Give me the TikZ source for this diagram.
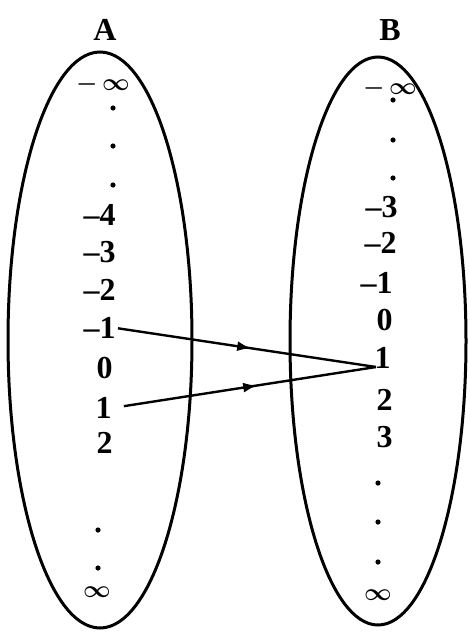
\documentclass[tikz,border=0pt]{standalone}
\usepackage{fontspec}
\setmainfont{Liberation Serif}
\usetikzlibrary{arrows.meta,decorations.markings}
\tikzset{
  num/.style={font=\fontsize{16}{16}\selectfont\bfseries, anchor=east, inner sep=0pt},
  setname/.style={font=\fontsize{16}{16}\selectfont\bfseries, inner sep=0pt},
  infty/.style={font=\fontsize{12}{12}\selectfont\boldmath, inner sep=0pt},
  dotmark/.style={fill=black, circle, inner sep=0pt, minimum size=2.6pt},
  midarrow/.style={decoration={markings, mark=at position #1 with {\arrow{Latex[length=7pt,width=5pt]}}}, postaction={decorate}},
}

\begin{document}
\begin{tikzpicture}[x=0.5pt, y=-0.5pt]
    \useasboundingbox (0,0) rectangle (470,632);
    % the two sets
    \draw[line width=1.5pt] (100,340) ellipse (92 and 288);
    \draw[line width=1.5pt] (378,341) ellipse (88 and 284);
    \node[setname] (A) at (105,30) {A};
    \node[setname] (B) at (390,30) {B};

    % set A
    \node[infty] (aminf) at (103,84) {$-\,\infty$};
    \foreach \y [count=\i] in {108,146,185} \node[dotmark] (atop\i) at (113,\y) {};
    \node[num] (am4) at (116,215) {–4};
    \node[num] (am3) at (116,252) {–3};
    \node[num] (am2) at (116,290) {–2};
    \node[num] (am1) at (116,328) {–1};
    \node[num] (a0) at (113,368) {0};
    \node[num] (a1) at (112,408) {1};
    \node[num] (a2) at (113,443) {2};
    \foreach \y [count=\i] in {530,568} \node[dotmark] (abot\i) at (98,\y) {};
    \node[infty] (ainf) at (97,592) {$\infty$};

    % set B
    \node[infty] (bminf) at (390,88) {$-\,\infty$};
    \foreach \y [count=\i] in {100,140,178} \node[dotmark] (btop\i) at (393,\y) {};
    \node[num] (bm3) at (398,207) {–3};
    \node[num] (bm2) at (397,243) {–2};
    \node[num] (bm1) at (393,283) {–1};
    \node[num] (b0) at (393,320) {0};
    \node[num] (b1) at (391,358) {1};
    \node[num] (b2) at (393,400) {2};
    \node[num] (b3) at (393,437) {3};
    \foreach \y [count=\i] in {483,522,562} \node[dotmark] (bbot\i) at (378,\y) {};
    \node[infty] (binf) at (378,595) {$\infty$};

    % mapping
    \coordinate (meet) at (376,367);
    \draw[line width=1.2pt, shorten <=1pt, midarrow=0.52] (am1.east) -- (meet);
    \draw[line width=1.2pt, shorten <=6pt, midarrow=0.55] (a1.east) -- (meet);
\end{tikzpicture}
\end{document}
